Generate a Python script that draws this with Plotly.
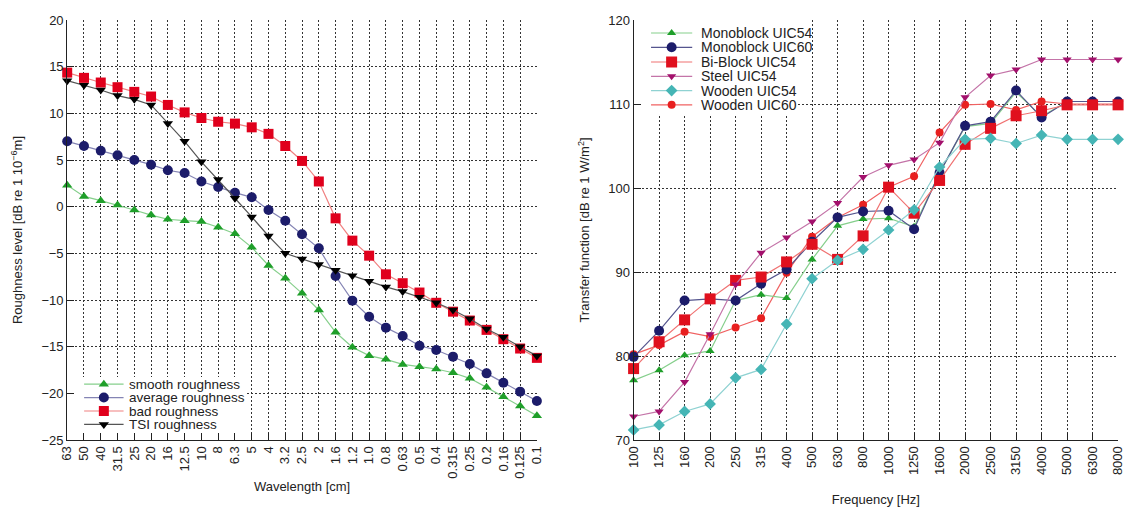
import plotly.graph_objects as go

# ---------------- roughness spectra (left panel) ----------------
wavelength_cm = ["63", "50", "40", "31.5", "25", "20", "16", "12.5", "10", "8", "6.3", "5", "4",
                 "3.2", "2.5", "2", "1.6", "1.2", "1.0", "0.8", "0.63", "0.5", "0.4", "0.315",
                 "0.25", "0.2", "0.16", "0.125", "0.1"]

smooth_roughness = [2.3, 1.1, 0.64, 0.18, -0.36, -0.9, -1.35, -1.5, -1.6, -2.2, -2.9, -4.36, -6.3,
                    -7.68, -9.29, -11.07, -13.46, -15.07, -15.96, -16.36, -16.9, -17.14, -17.39,
                    -17.79, -18.39, -19.36, -20.36, -21.36, -22.39]
average_roughness = [7.0, 6.5, 6.0, 5.5, 5.0, 4.5, 3.9, 3.6, 2.7, 2.1, 1.5, 1.0, -0.36, -1.5,
                     -2.96, -4.46, -7.43, -10.07, -11.8, -12.96, -13.86, -14.9, -15.36, -16.07,
                     -16.86, -17.86, -18.86, -19.82, -20.82]
bad_roughness = [14.36, 13.8, 13.3, 12.8, 12.3, 11.8, 10.9, 10.1, 9.5, 9.1, 8.9, 8.5, 7.8, 6.5,
                 4.9, 2.7, -1.25, -3.64, -5.25, -7.25, -8.2, -9.2, -10.3, -11.25, -12.2, -13.2,
                 -14.2, -15.2, -16.2]
tsi_roughness = [13.5, 13.0, 12.5, 11.9, 11.5, 10.9, 8.9, 7.0, 4.8, 2.9, 0.9, -1.1, -3.14, -5.0,
                 -5.6, -6.2, -6.8, -7.4, -8.0, -8.6, -9.1, -9.7, -10.3, -11.07, -12.0, -13.1,
                 -14.0, -15.0, -16.0]

# ---------------- transfer functions (right panel) ----------------
frequency_hz = ["100", "125", "160", "200", "250", "315", "400", "500", "630", "800", "1000",
                "1250", "1600", "2000", "2500", "3150", "4000", "5000", "6300", "8000"]

monoblock_uic54 = [77.1, 78.3, 80.1, 80.6, 86.6, 87.3, 86.9, 91.5, 95.5, 96.3, 96.4, 95.4, 101.8,
                   107.3, 107.7, 111.4, 108.5, 110.3, 110.3, 110.3]
monoblock_uic60 = [79.9, 83.0, 86.6, 86.8, 86.6, 88.6, 90.3, 93.6, 96.5, 97.2, 97.3, 95.1, 101.8,
                   107.4, 107.9, 111.6, 108.4, 110.3, 110.3, 110.3]
biblock_uic54 = [78.5, 81.7, 84.3, 86.8, 89.0, 89.4, 91.2, 93.3, 91.5, 94.3, 100.1, 97.0, 100.9,
                 105.2, 107.1, 108.6, 109.2, 109.9, 109.9, 109.9]
steel_uic54 = [72.8, 73.4, 76.9, 82.6, 88.5, 92.3, 94.1, 96.0, 98.2, 101.3, 102.7, 103.4, 105.4,
               110.8, 113.4, 114.1, 115.3, 115.3, 115.3, 115.3]
wooden_uic54 = [71.2, 71.8, 73.4, 74.3, 77.4, 78.4, 83.8, 89.2, 91.4, 92.7, 95.0, 97.4, 102.5,
                105.8, 105.9, 105.3, 106.3, 105.8, 105.8, 105.8]
wooden_uic60 = [80.2, 81.3, 82.9, 82.3, 83.4, 84.5, 89.9, 94.2, 96.5, 98.0, 100.1, 101.4, 106.6,
                109.9, 110.0, 109.3, 110.3, 110.0, 110.0, 110.0]

FONT = "Liberation Sans, Arial, sans-serif"

# name, values, marker colour, line colour, symbol, size
left_series = [
    ("smooth roughness", smooth_roughness, "#1f9f2a", "#86cf8c", "triangle-up", 9),
    ("average roughness", average_roughness, "#1c1c6a", "#8484b4", "circle", 10),
    ("bad roughness", bad_roughness, "#e0001c", "#f08080", "square", 10),
    ("TSI roughness", tsi_roughness, "#000000", "#555555", "triangle-down", 9),
]
right_legend_order = [
    ("Monoblock UIC54", monoblock_uic54, "#1f9f2a", "#86cf8c", "triangle-up", 8),
    ("Monoblock UIC60", monoblock_uic60, "#1c1c6a", "#55558e", "circle", 10),
    ("Bi-Block UIC54", biblock_uic54, "#e0101e", "#f07272", "square", 11),
    ("Steel UIC54", steel_uic54, "#a3106c", "#c474a8", "triangle-down", 8),
    ("Wooden UIC54", wooden_uic54, "#45b5b5", "#8fd2d2", "diamond", 9),
    ("Wooden UIC60", wooden_uic60, "#e82020", "#f06262", "circle", 8),
]
# drawing order: the small wooden UIC60 circles sit underneath the others
right_draw_order = [right_legend_order[5]] + right_legend_order[:5]

fig = go.Figure()

for name, vals, mc, lc, sym, sz in left_series:
    fig.add_trace(go.Scatter(
        x=wavelength_cm, y=vals, name=name, mode="lines+markers",
        line=dict(color=lc, width=1.2),
        marker=dict(color=mc, symbol=sym, size=sz, line=dict(width=0)),
        xaxis="x", yaxis="y", cliponaxis=False, showlegend=False))

for name, vals, mc, lc, sym, sz in right_draw_order:
    fig.add_trace(go.Scatter(
        x=frequency_hz, y=vals, name=name, mode="lines+markers",
        line=dict(color=lc, width=1.2),
        marker=dict(color=mc, symbol=sym, size=sz, line=dict(width=0)),
        xaxis="x2", yaxis="y2", cliponaxis=False, showlegend=False))

# ---------- keys, drawn on overlay axes spanning each panel (0..1) ----------
annotations = []


def add_key(series, xa, ya, x_line, x_text, y_rows, fsize):
    for (name, _, mc, lc, sym, sz), yy in zip(series, y_rows):
        fig.add_trace(go.Scatter(x=[x_line[0], x_line[1]], y=[yy, yy], mode="lines",
                                 line=dict(color=lc, width=1.2), xaxis=xa, yaxis=ya,
                                 showlegend=False, hoverinfo="skip", cliponaxis=False))
        fig.add_trace(go.Scatter(x=[(x_line[0] + x_line[1]) / 2], y=[yy], mode="markers",
                                 marker=dict(color=mc, symbol=sym, size=sz, line=dict(width=0)),
                                 xaxis=xa, yaxis=ya, showlegend=False, hoverinfo="skip",
                                 cliponaxis=False))
        annotations.append(dict(x=x_text, y=yy, xref=xa, yref=ya, text=name, showarrow=False,
                                xanchor="left", yanchor="middle",
                                font=dict(family=FONT, size=fsize, color="#222")))


add_key(left_series, "x3", "y3", (0.036, 0.120), 0.127,
        [0.133, 0.101, 0.069, 0.037], 13.5)
add_key(right_legend_order, "x4", "y4", (0.036, 0.121), 0.134,
        [0.969, 0.935, 0.900, 0.866, 0.832, 0.798], 14)

W, H = 1131, 507
dom_left = [60 / W, 536 / W]
dom_right = [634 / W, 1125 / W]

tick_font = dict(family=FONT, size=13, color="#222")
title_font = dict(family=FONT, size=13, color="#222")
grid = dict(showgrid=True, gridcolor="#333", gridwidth=1, griddash="2px,2px",
            zeroline=False, showline=True, linecolor="#222", linewidth=1,
            ticks="inside", ticklen=7, tickcolor="#222", tickwidth=1,
            tickfont=tick_font)

fig.update_layout(
    width=W, height=H,
    margin=dict(l=0, r=0, t=20, b=67),
    paper_bgcolor="white", plot_bgcolor="white",
    font=dict(family=FONT, color="#222"),
    xaxis=dict(domain=dom_left, type="category", range=[0, len(wavelength_cm) - 1],
               tickangle=-90, anchor="y",
               title=dict(text="Wavelength [cm]", font=title_font, standoff=4), **grid),
    yaxis=dict(domain=[0, 1], range=[-25, 20], dtick=5, anchor="x",
               title=dict(text="Roughness level [dB re 1 10<sup>−6</sup>m]", font=title_font,
                          standoff=15), **grid),
    xaxis2=dict(domain=dom_right, type="category", range=[0, len(frequency_hz) - 1],
                tickangle=-90, anchor="y2",
                title=dict(text="Frequency [Hz]", font=title_font, standoff=20), **grid),
    yaxis2=dict(domain=[0, 1], range=[70, 120], dtick=10, anchor="x2",
                title=dict(text="Transfer function [dB re 1 W/m<sup>2</sup>]", font=title_font,
                           standoff=15), **grid),
    xaxis3=dict(overlaying="x", domain=dom_left, range=[0, 1], visible=False, anchor="y3"),
    yaxis3=dict(overlaying="y", range=[0, 1], visible=False, anchor="x3"),
    xaxis4=dict(overlaying="x2", domain=dom_right, range=[0, 1], visible=False, anchor="y4"),
    yaxis4=dict(overlaying="y2", range=[0, 1], visible=False, anchor="x4"),
    annotations=annotations,
    shapes=[
        # opaque key boxes hiding the grid behind the keys
        dict(type="rect", xref="x", yref="y", x0=-0.5, x1=10.6, y0=-26, y1=-18.25,
             fillcolor="white", line=dict(width=0), layer="between"),
        dict(type="rect", xref="x2", yref="y2", x0=-0.5, x1=6.42, y0=108.8, y1=121,
             fillcolor="white", line=dict(width=0), layer="between"),
    ],
    showlegend=False,
)

fig.write_html("out.html")
